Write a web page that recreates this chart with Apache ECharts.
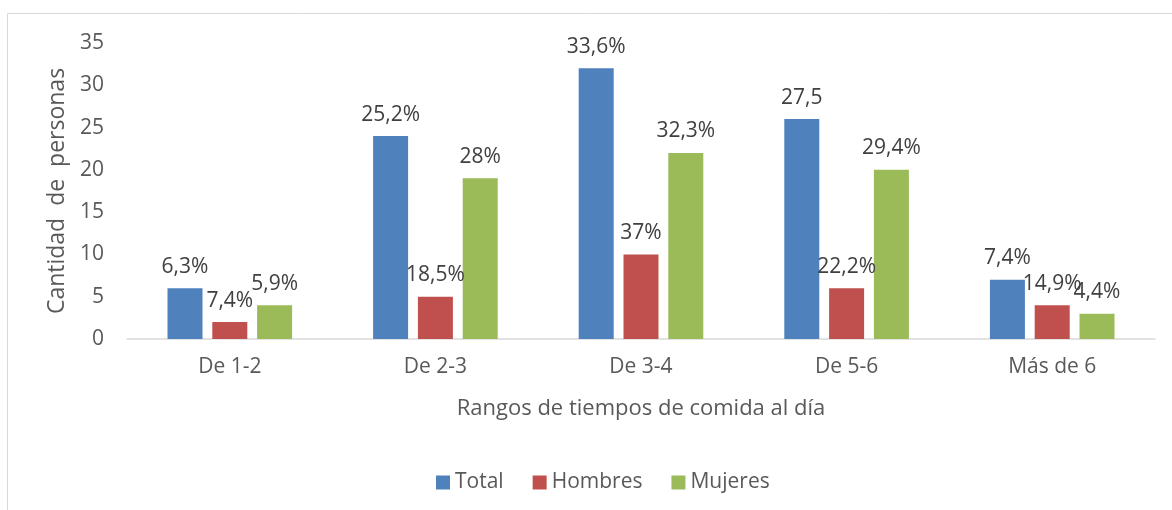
<!DOCTYPE html>
<head>
    <meta charset="utf-8">
    <title>ECharts</title>
    <style>
        body { margin: 0; background: #fff; }
    </style>
</head>
<body>
    <div id="main" style="height:510px;width:1172px"></div>
    <script src="https://cdn.jsdelivr.net/npm/echarts@6/dist/echarts.min.js"></script>
    <script type="text/javascript">
    // datos
    var categorias = ['De 1-2', 'De 2-3', 'De 3-4', 'De 5-6', 'Más de 6'];
    var total = [6, 24, 32, 26, 7];
    var hombres = [2, 5, 10, 6, 4];
    var mujeres = [4, 19, 22, 20, 3];
    var etiquetasTotal = ['6,3%', '25,2%', '33,6%', '27,5', '7,4%'];
    var etiquetasHombres = ['7,4%', '18,5%', '37%', '22,2%', '14,9%'];
    var etiquetasMujeres = ['5,9%', '28%', '32,3%', '29,4%', '4,4%'];

    var fuente = 'Open Sans';
    var gris = '#595959';

    var myChart = echarts.init(document.getElementById('main'));

    function serie(nombre, datos, etiquetas, color) {
        return {
            name: nombre,
            type: 'bar',
            barWidth: 35,
            barGap: '28%',
            data: datos,
            itemStyle: { color: color },
            label: {
                show: true,
                position: 'top',
                distance: 11,
                fontFamily: fuente,
                fontSize: 21,
                color: '#404040',
                formatter: function (p) { return etiquetas[p.dataIndex]; }
            }
        };
    }

    var option = {
        animation: false,
        textStyle: { fontFamily: fuente },
        graphic: [{
            type: 'rect',
            shape: { x: 7.5, y: 13.5, width: 1180, height: 520 },
            style: { fill: 'none', stroke: '#D9D9D9', lineWidth: 1 }
        }],
        legend: {
            left: 431,
            top: 467,
            itemWidth: 14,
            itemHeight: 14,
            itemGap: 29,
            icon: 'rect',
            textStyle: { fontFamily: fuente, fontSize: 21, color: gris },
            data: ['Total', 'Hombres', 'Mujeres']
        },
        grid: {
            left: 127,
            right: 17,
            top: 43,
            bottom: 171
        },
        xAxis: {
            type: 'category',
            data: categorias,
            name: 'Rangos de tiempos de comida al día',
            nameLocation: 'middle',
            nameGap: 59,
            nameTextStyle: { fontFamily: fuente, fontSize: 22, color: gris },
            axisLine: { lineStyle: { color: '#D9D9D9', width: 1.5 } },
            axisTick: { show: false },
            axisLabel: { fontFamily: fuente, fontSize: 21, color: gris, margin: 18 }
        },
        yAxis: {
            type: 'value',
            min: 0,
            max: 35,
            interval: 5,
            name: 'Cantidad  de  personas',
            nameLocation: 'middle',
            nameGap: 55,
            nameTextStyle: { fontFamily: fuente, fontSize: 23, color: gris },
            axisLine: { show: false },
            axisTick: { show: false },
            splitLine: { show: false },
            axisLabel: { fontFamily: fuente, fontSize: 21, color: gris, margin: 23 }
        },
        series: [
            serie('Total', total, etiquetasTotal, '#4F81BD'),
            serie('Hombres', hombres, etiquetasHombres, '#C0504D'),
            serie('Mujeres', mujeres, etiquetasMujeres, '#9BBB59')
        ]
    };
    myChart.setOption(option);
    </script>
</body>
